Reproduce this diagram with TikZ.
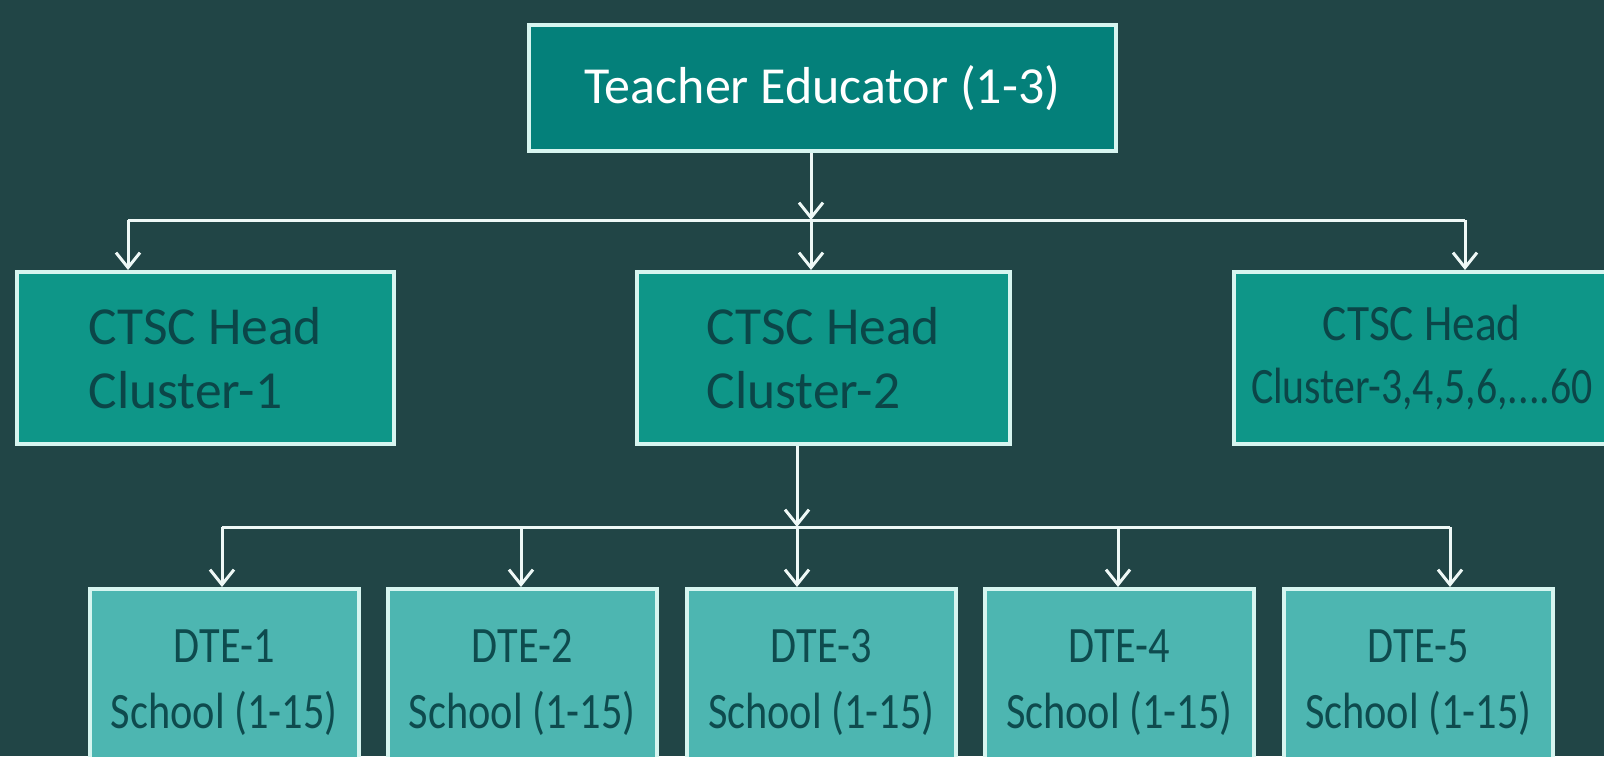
\documentclass[tikz,border=0pt]{standalone}
\usepackage{fontspec}
\setmainfont{Carlito}
\newfontfamily\dtefont[FakeStretch=0.83]{Carlito}
\newfontfamily\cthreehead[FakeStretch=0.89]{Carlito}
\newfontfamily\cthreeline[FakeStretch=0.82]{Carlito}
\usetikzlibrary{arrows.meta}
\definecolor{bg}{RGB}{33,69,70}
\definecolor{topfill}{RGB}{4,128,122}
\definecolor{clfill}{RGB}{14,150,136}
\definecolor{dtefill}{RGB}{77,182,177}
\definecolor{edge}{RGB}{215,245,240}
\definecolor{wirec}{RGB}{238,248,246}
\definecolor{cltext}{RGB}{11,70,72}
\definecolor{dtetext}{RGB}{14,75,78}
\begin{document}
\begin{tikzpicture}[x=1pt,y=-1pt,
  box/.style={draw=edge, line width=3.5pt, inner sep=0pt, anchor=north west},
  topbox/.style={box, fill=topfill, text=white, minimum width=587pt, minimum height=126pt,
    font=\fontsize{52}{63}\selectfont},
  clbox/.style={box, fill=clfill, text=cltext, minimum height=172pt,
    font=\fontsize{53.5}{64}\selectfont},
  dtebox/.style={box, fill=dtefill, text=dtetext, minimum width=269pt, minimum height=188pt,
    align=center, font=\dtefont\fontsize{51}{66}\selectfont},
  wire/.style={draw=wirec, line width=3pt},
  arrow/.style={wire, -{Straight Barb[length=15pt,width=24pt]}}]
\fill[bg] (0,0) rectangle (1604,756);
\clip (0,0) rectangle (1604,756);
% nodes
\node[topbox] (te) at (527,23) {Teacher Educator (1-3)};
\node[clbox, minimum width=377pt, align=left] (c1) at (15,270) {CTSC Head\\Cluster-1};
\node[clbox, minimum width=373pt, align=left] (c2) at (635,270) {CTSC Head\\Cluster-2};
\node[clbox, minimum width=376pt, align=center, font=\fontsize{51}{63}\selectfont] (c3) at (1232,270)
  {{\cthreehead CTSC Head}\\{\cthreeline Cluster-3,4,5,6,....60}};
\node[dtebox] (d1) at (88,587) {DTE-1\\School (1-15)};
\node[dtebox] (d2) at (386,587) {DTE-2\\School (1-15)};
\node[dtebox] (d3) at (685,587) {DTE-3\\School (1-15)};
\node[dtebox] (d4) at (983,587) {DTE-4\\School (1-15)};
\node[dtebox] (d5) at (1282,587) {DTE-5\\School (1-15)};
% top bus
\coordinate (t1) at (811,220);
\coordinate (bL) at (128,220);
\coordinate (bR) at (1465,220);
\draw[wire] (bL) -- (bR);
\draw[arrow] (te.south -| t1) -- (t1);
\draw[arrow] (t1) -- (t1 |- c2.north);
\draw[arrow] (bL) -- (bL |- c1.north);
\draw[arrow] (bR) -- (bR |- c3.north);
% bottom bus
\coordinate (t2) at (797,527);
\coordinate (e1) at (222,527);
\coordinate (e2) at (521,527);
\coordinate (e4) at (1118,527);
\coordinate (e5) at (1450,527);
\draw[wire] (e1) -- (e5);
\draw[arrow] (c2.south -| t2) -- (t2);
\draw[arrow] (t2) -- (t2 |- d3.north);
\draw[arrow] (e1) -- (e1 |- d1.north);
\draw[arrow] (e2) -- (e2 |- d2.north);
\draw[arrow] (e4) -- (e4 |- d4.north);
\draw[arrow] (e5) -- (e5 |- d5.north);
\end{tikzpicture}
\end{document}
